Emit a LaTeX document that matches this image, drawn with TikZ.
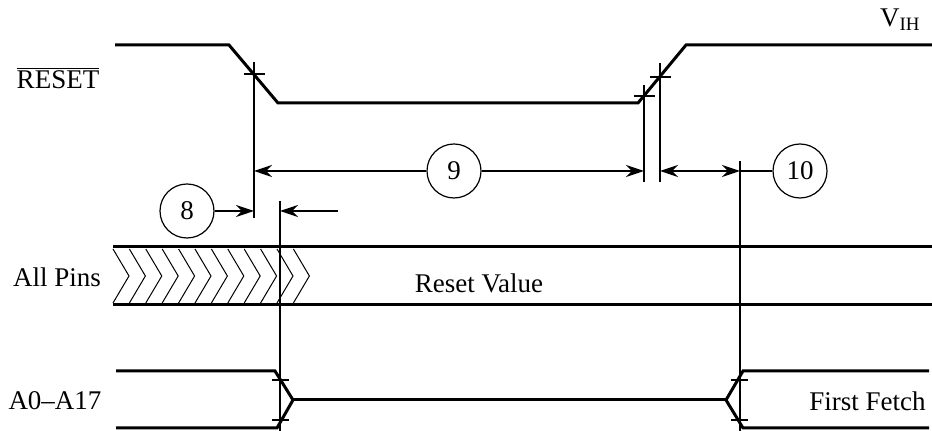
\documentclass[tikz,border=0pt]{standalone}
\usepackage{fontspec}
\setmainfont{Liberation Serif}
\usetikzlibrary{arrows.meta,calc}
\tikzset{
  wave/.style={line width=1.5pt, line join=miter},
  guide/.style={line width=1pt},
  tickmark/.style={line width=1pt},
  hatch/.style={line width=0.5pt},
  dim/.style={line width=1pt, -{Stealth[length=9pt,width=6pt]}},
  dimboth/.style={line width=1pt, {Stealth[length=9pt,width=6pt]}-{Stealth[length=9pt,width=6pt]}},
  num/.style={circle, draw, line width=0.6pt, minimum size=27pt, inner sep=0pt},
  lbl/.style={inner sep=0pt},
}
\begin{document}
\begin{tikzpicture}[x=0.5pt,y=-0.5pt,font=\fontsize{13.5}{16}\selectfont]
\useasboundingbox (0,0) rectangle (932,431);

% ---------- RESET waveform ----------
\coordinate (r0) at (115,45);
\coordinate (r1) at (229,45);
\coordinate (r2) at (278,103);
\coordinate (r3) at (638,103);
\coordinate (r4) at (686,45);
\coordinate (r5) at (932,45);
\draw[wave] (r0) -- (r1) -- (r2) -- (r3) -- (r4) -- (r5);

% ticks at crossing points
\draw[tickmark] (244,74) -- (265,74);
\draw[tickmark] (634,96) -- (655,96);
\draw[tickmark] (650,77) -- (671,77);

% vertical guides from RESET
\coordinate (va0) at (254,62);  \coordinate (va1) at (254,218);
\coordinate (vb0) at (644,85);  \coordinate (vb1) at (644,182);
\coordinate (vc0) at (660,63);  \coordinate (vc1) at (660,182);
\draw[guide] (va0) -- (va1);
\draw[guide] (vb0) -- (vb1);
\draw[guide] (vc0) -- (vc1);

% other vertical guides
\coordinate (vd0) at (280,201); \coordinate (vd1) at (280,431);
\coordinate (ve0) at (740,161); \coordinate (ve1) at (740,431);
\draw[guide] (vd0) -- (vd1);
\draw[guide] (ve0) -- (ve1);

% ---------- labels ----------
\node[lbl] (lreset) at (58,78) {$\overline{\mbox{RESET}}$};
\node[lbl, anchor=east] (lvih) at (921,20) {V\textsubscript{IH}};
\node[lbl] (lpins) at (57,277) {All Pins};
\node[lbl] (lreval) at (479,283) {Reset Value};
\node[lbl] (laddr) at (55,401) {A0--A17};
\node[lbl, anchor=east] (lfetch) at (926,401) {First Fetch};

% ---------- dimension 9 ----------
\node[num] (c9) at (454,171) {9};
\coordinate (d9a) at (254,171);
\coordinate (d9b) at (644,171);
\draw[dim] (c9.west) -- (d9a);
\draw[dim] (c9.east) -- (d9b);

% ---------- dimension 10 ----------
\node[num] (c10) at (800,171) {10};
\coordinate (d10a) at (660,171);
\coordinate (d10b) at (740,171);
\draw[dimboth] (d10a) -- (d10b);
\draw[guide] (d10b) -- (c10.west);

% ---------- dimension 8 ----------
\node[num] (c8) at (187,211) {8};
\coordinate (d8a) at (254,211);
\coordinate (d8b) at (338,211);
\coordinate (d8c) at (280,211);
\draw[dim] (c8.east) -- (d8a);
\draw[dim] (d8b) -- (d8c);

% ---------- All Pins band ----------
\coordinate (p0) at (113,247); \coordinate (p1) at (932,247);
\coordinate (p2) at (113,305); \coordinate (p3) at (932,305);
\draw[wave] (p0) -- (p1);
\draw[wave] (p2) -- (p3);
\foreach \i in {0,...,11}{
  \pgfmathsetmacro{\xx}{113+16.4*\i}
  \draw[hatch] (\xx,249) -- (\xx+16,276) -- (\xx,303);
}

% ---------- A0-A17 ----------
\coordinate (a0) at (116,371); \coordinate (a1) at (275,371);
\coordinate (a2) at (116,428); \coordinate (a3) at (277,428);
\coordinate (am) at (293,400); \coordinate (an) at (726,400);
\coordinate (b1) at (743,371); \coordinate (b2) at (929,371);
\coordinate (b3) at (743,428); \coordinate (b4) at (929,428);
\draw[wave] (a0) -- (a1) -- (am) -- (a3) -- (a2);
\draw[wave] (am) -- (an);
\draw[wave] (b2) -- (b1) -- (an) -- (b3) -- (b4);
\draw[tickmark] (272,380) -- (289,380);
\draw[tickmark] (272,420) -- (289,420);
\draw[tickmark] (731,380) -- (748,380);
\draw[tickmark] (731,420) -- (748,420);
\end{tikzpicture}
\end{document}
